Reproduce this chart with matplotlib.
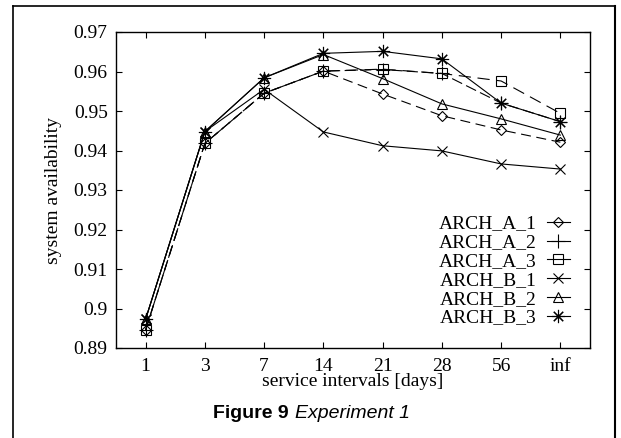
import numpy as np
import matplotlib
matplotlib.use("Agg")
from matplotlib import pyplot as plt
from matplotlib.lines import Line2D

intervals = ["1", "3", "7", "14", "21", "28", "56", "inf"]
arch_a_1 = [0.8946, 0.9418, 0.9545, 0.9601, 0.9543, 0.9488, 0.9452, 0.9421]
arch_a_2 = [0.8946, 0.9418, 0.9545, 0.9601, 0.9605, 0.9595, 0.9520, 0.9473]
arch_a_3 = [0.8946, 0.9418, 0.9545, 0.9601, 0.9606, 0.9595, 0.9576, 0.9494]
arch_b_1 = [0.8973, 0.9448, 0.9555, 0.9447, 0.9412, 0.9399, 0.9366, 0.9353]
arch_b_2 = [0.8973, 0.9448, 0.9584, 0.9643, 0.9582, 0.9518, 0.9480, 0.9439]
arch_b_3 = [0.8973, 0.9448, 0.9584, 0.9646, 0.9651, 0.9632, 0.9520, 0.9473]
names = ["ARCH_A_1", "ARCH_A_2", "ARCH_A_3", "ARCH_B_1", "ARCH_B_2", "ARCH_B_3"]
yticks = [0.89, 0.9, 0.91, 0.92, 0.93, 0.94, 0.95, 0.96, 0.97]
ytick_labels = ["0.89", "0.9", "0.91", "0.92", "0.93", "0.94", "0.95", "0.96", "0.97"]

series = [arch_a_1, arch_a_2, arch_a_3, arch_b_1, arch_b_2, arch_b_3]
markers = ["D", "+", "s", "x", "^", (8, 2, 0)]
msizes = [5.5, 10, 6.5, 7.5, 7.5, 9.5]
dashes = [(9, 5), (10, 4), (11, 6), None, None, None]

serif = "Liberation Serif"
fs = 14

fig = plt.figure(figsize=(6.21, 4.38), dpi=100)
ax = fig.add_axes([116 / 621, 1 - 348 / 438, (590 - 116) / 621, (348 - 32) / 438])

x = np.arange(len(intervals))
handles = []
for vals, name, m, ms, d in zip(series, names, markers, msizes, dashes):
    line, = ax.plot(x, vals, color="black", linewidth=0.8, marker=m,
                    markersize=ms, markerfacecolor="none", markeredgewidth=0.8)
    if d is not None:
        line.set_dashes(d)
    handles.append(Line2D([], [], color="black", linewidth=0.8, marker=m,
                          markersize=ms, markerfacecolor="none",
                          markeredgewidth=0.8))

ax.set_xlim(-0.5, len(intervals) - 0.5)
ax.set_ylim(0.89, 0.97)
ax.set_xticks(x)
ax.set_xticklabels(intervals, fontfamily=serif, fontsize=fs)
ax.set_yticks(yticks)
ax.set_yticklabels(ytick_labels, fontfamily=serif, fontsize=fs)
ax.tick_params(direction="in", length=4, width=0.8, top=True, right=True)
ax.tick_params(axis="x", pad=7)
ax.tick_params(axis="y", pad=6)
for s in ax.spines.values():
    s.set_linewidth(1.0)

ax.set_xlabel("service intervals [days]", fontfamily=serif, fontsize=fs, labelpad=-1)
ax.set_ylabel("system availability", fontfamily=serif, fontsize=fs, labelpad=8)

ax.legend(handles, names, loc="upper right",
          bbox_to_anchor=((570 - 116) / 474, (348 - 215) / 316),
          frameon=False, markerfirst=False, handlelength=1.2,
          handletextpad=0.5, labelspacing=0.06, borderpad=0, borderaxespad=0,
          prop={"family": serif, "size": fs})

# outer frame of the figure panel
fig.add_artist(Line2D([13 / 621, 13 / 621], [0, 1 - 6 / 438], color="black", linewidth=1.2))
fig.add_artist(Line2D([13 / 621, 615 / 621], [1 - 6 / 438, 1 - 6 / 438], color="black", linewidth=1.2))
fig.add_artist(Line2D([615 / 621, 615 / 621], [0, 1 - 6 / 438], color="black", linewidth=1.5))

fig.text(289 / 621, 1 - 418 / 438, "Figure 9", fontfamily="Liberation Sans",
         fontweight="bold", fontsize=fs, ha="right", va="baseline")
fig.text(295 / 621, 1 - 418 / 438, "Experiment 1", fontfamily="Liberation Sans",
         fontstyle="italic", fontsize=fs, ha="left", va="baseline")

fig.savefig("out.png", dpi=100)
